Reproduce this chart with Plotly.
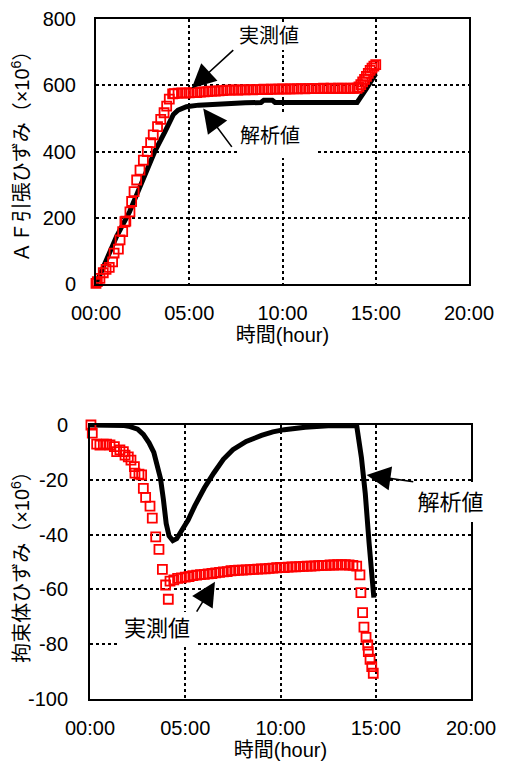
import plotly.graph_objects as go

# ---------------- data ----------------
# top chart: AF tensile strain
af_calc_time = [0, 0.4, 1.1, 1.8, 2.5, 3.15, 3.7, 4.0, 4.15, 4.4, 4.85, 5.5, 6.5, 8.0, 8.85, 9.0, 9.45, 9.6, 12.0, 14.0, 14.5, 15.0]
af_calc = [0, 52, 143, 218, 310, 400, 460, 500, 512, 525, 535, 540, 544, 547, 548, 555, 555, 548, 548, 548, 590, 635]

af_meas_time = [0.0, 0.07, 0.21, 0.39, 0.54, 0.71, 0.89, 0.97, 1.2, 1.29, 1.43, 1.55, 1.6, 1.82, 1.91, 2.04, 2.18,
                2.36, 2.54, 2.75, 2.93, 3.07, 3.3, 3.47, 3.65, 3.79, 3.93, 4.11,
                4.2, 4.4, 4.6, 4.8, 5.0, 5.2, 5.4, 5.6, 5.8, 6.0, 6.2, 6.4, 6.6, 6.8, 7.0, 7.2, 7.4, 7.6, 7.8,
                8.0, 8.2, 8.4, 8.6, 8.8, 9.0, 9.2, 9.4, 9.6, 9.8, 10.0, 10.2, 10.4, 10.6, 10.8, 11.0, 11.2,
                11.4, 11.6, 11.8, 12.0, 12.2, 12.4, 12.6, 12.8, 13.0, 13.2, 13.4, 13.6, 13.8, 14.0,
                14.1, 14.2, 14.3, 14.4, 14.5, 14.6, 14.7, 14.8, 14.9, 15.0]
af_meas = [2, 7, 17, 34, 44, 50, 67, 93, 105, 133, 158, 188, 190, 218, 249, 279, 314,
           344, 374, 400, 427, 450, 475, 497, 517, 537, 558, 574,
           575, 576, 577, 576, 577, 578, 578, 579, 580, 581, 582, 582, 583, 584, 585, 585, 586, 585, 586,
           586, 587, 586, 587, 587, 588, 587, 588, 588, 588, 589, 588, 589, 589, 589, 590, 589,
           590, 590, 590, 590, 591, 590, 591, 590, 591, 591, 590, 591, 591, 591,
           595, 602, 610, 618, 627, 636, 645, 652, 658, 662]

# bottom chart: restraint body strain
rb_calc_time = [0, 1.0, 1.8, 2.1, 2.5, 2.8, 3.1, 3.35, 3.55, 3.7, 3.85, 4.0, 4.15, 4.35, 4.55, 4.8, 5.15, 5.5,
                6.0, 6.5, 7.0, 7.5, 8.2, 9.0, 9.6, 10.2, 11.3, 12.5, 14.0, 14.25, 14.45, 14.65, 14.9]
rb_calc = [0, 0, -0.2, -0.6, -1.5, -3.4, -6.5, -10, -15, -19.5, -27, -36, -40.5, -42.2, -41.5, -38.8, -34.7, -29.5,
           -23, -17.5, -12.5, -9, -6, -3.8, -2.5, -1.7, -0.8, -0.3, -0.3, -12, -25, -43, -63]

rb_meas_time = [0.05, 0.12, 0.35, 0.52, 0.7, 0.87, 1.05, 1.28, 1.4, 1.57, 1.75, 1.84, 2.01, 2.15, 2.33, 2.36,
                2.57, 2.71, 2.8, 2.92, 3.15, 3.27, 3.45, 3.62, 3.8, 3.97, 4.11,
                4.2, 4.4, 4.6, 4.8, 5.0, 5.2, 5.4, 5.6, 5.8, 6.0, 6.2, 6.4, 6.6, 6.8, 7.0, 7.2, 7.4, 7.6, 7.8,
                8.0, 8.2, 8.4, 8.6, 8.8, 9.0, 9.2, 9.4, 9.6, 9.8, 10.0, 10.2, 10.4, 10.6, 10.8, 11.0, 11.2,
                11.4, 11.6, 11.8, 12.0, 12.2, 12.4, 12.6, 12.8, 13.0, 13.2, 13.4, 13.6, 13.8, 14.0,
                14.17, 14.22, 14.31, 14.38, 14.49, 14.58, 14.61, 14.7, 14.79, 14.87]
rb_meas = [0, -3, -7, -7.3, -7, -7, -7.3, -7.9, -9.7, -9.1, -9.7, -11, -11.6, -12.8, -15.2, -17.6,
           -17.9, -18.2, -23.1, -26.4, -29.6, -34, -40.8, -45.4, -52.7, -58.4, -63.6,
           -57, -56.5, -56, -55.8, -55.5, -55.3, -55, -54.8, -54.6, -54.5, -54.3, -54.2, -54, -53.8, -53.6,
           -53.5, -53.2, -53.1, -53, -53, -52.9, -52.8, -52.7, -52.6, -52.5, -52.5, -52.3, -52.2, -52.1,
           -52, -52, -51.9, -51.8, -51.8, -51.7, -51.6, -51.5, -51.5, -51.4, -51.3, -51.2, -51.2, -51.1,
           -51.1, -51, -51, -51, -51.1, -51.2, -51.5,
           -54.7, -61.2, -68.5, -73.8, -77.5, -80.3, -82.7, -85.5, -88.2, -90.6]

x_tickvals = [0, 5, 10, 15, 20]
x_ticktext = ["00:00", "05:00", "10:00", "15:00", "20:00"]
top_y_tickvals = [0, 200, 400, 600, 800]
top_y_ticktext = ["0", "200", "400", "600", "800"]
bot_y_tickvals = [0, -20, -40, -60, -80, -100]
bot_y_ticktext = ["0", "-20", "-40", "-60", "-80", "-100"]

label_meas = "実測値"
label_calc = "解析値"

# ---------------- figure ----------------
FONT = "Liberation Sans, Noto Sans CJK JP, sans-serif"
W, H = 500, 762          # page body margin is 8px, so the figure fills the 508x770 window
OFF = 8
RED = "#FF0000"


def xdom(left_px, right_px):
    return [(left_px - OFF) / W, (right_px - OFF) / W]


def ydom(top_px, bottom_px):
    return [(H - (bottom_px - OFF)) / H, (H - (top_px - OFF)) / H]


fig = go.Figure()

meas_marker = dict(symbol="square-open", size=9, color=RED, line=dict(width=1.8, color=RED))

fig.add_trace(go.Scatter(x=af_calc_time, y=af_calc, mode="lines", line=dict(color="black", width=5),
                         xaxis="x", yaxis="y", showlegend=False, cliponaxis=False))
fig.add_trace(go.Scatter(x=af_meas_time, y=af_meas, mode="markers", marker=meas_marker,
                         xaxis="x", yaxis="y", showlegend=False, cliponaxis=False))
fig.add_trace(go.Scatter(x=rb_calc_time, y=rb_calc, mode="lines", line=dict(color="black", width=5),
                         xaxis="x2", yaxis="y2", showlegend=False, cliponaxis=False))
fig.add_trace(go.Scatter(x=rb_meas_time, y=rb_meas, mode="markers", marker=meas_marker,
                         xaxis="x2", yaxis="y2", showlegend=False, cliponaxis=False))

axis_common = dict(showline=True, mirror=True, linecolor="black", linewidth=2,
                   showgrid=True, gridcolor="black", griddash="dot", gridwidth=1.5,
                   zeroline=False, ticks="", automargin=False,
                   tickfont=dict(family=FONT, size=20, color="black"),
                   title_font=dict(family=FONT, size=20, color="black"))

fig.update_layout(
    width=W, height=H,
    margin=dict(l=0, r=0, t=0, b=0, pad=0, autoexpand=False),
    paper_bgcolor="white", plot_bgcolor="white",
    font=dict(family=FONT, size=20, color="black"),
    xaxis=dict(domain=xdom(96, 469), range=[0, 20], tickvals=x_tickvals, ticktext=x_ticktext,
               anchor="y", ticklabelstandoff=10, title=dict(text="時間(hour)", standoff=4), **axis_common),
    yaxis=dict(domain=ydom(19, 284), range=[0, 800], tickvals=top_y_tickvals,
               ticktext=top_y_ticktext, anchor="x", ticklabelstandoff=14,
               title=dict(text="ＡＦ引張ひずみ（×10<sup>6</sup>）", standoff=8), **axis_common),
    xaxis2=dict(domain=xdom(90, 471), range=[0, 20], tickvals=x_tickvals, ticktext=x_ticktext,
                anchor="y2", ticklabelstandoff=10, title=dict(text="時間(hour)", standoff=4), **axis_common),
    yaxis2=dict(domain=ydom(425, 699), range=[-100, 0], tickvals=bot_y_tickvals,
                ticktext=bot_y_ticktext, anchor="x2", ticklabelstandoff=16,
                title=dict(text="拘束体ひずみ（×10<sup>6</sup>）", standoff=8), **axis_common),
)

top_font = dict(family=FONT, size=20, color="black")
bot_font = dict(family=FONT, size=22, color="black")
arrow = dict(showarrow=True, arrowhead=2, arrowsize=3, arrowwidth=1.6, arrowcolor="black",
             bgcolor="white", borderwidth=0, borderpad=0)
annotations = [
    # top chart: measured
    dict(text=label_meas, font=top_font, x=5.13, y=591, xref="x", yref="y",
         ax=7.36, ay=706, axref="x", ayref="y", xanchor="left", yanchor="bottom",
         width=72, height=28, align="center", valign="middle", **arrow),
    # top chart: analysis
    dict(text=label_calc, font=top_font, x=5.75, y=530, xref="x", yref="y",
         ax=7.73, ay=380, axref="x", ayref="y", xanchor="left", yanchor="bottom",
         width=77, height=44, align="left", valign="middle", startstandoff=14, **arrow),
    # bottom chart: analysis
    dict(text=label_calc, font=bot_font, x=14.52, y=-18.25, xref="x2", yref="y2",
         ax=16.97, ay=-20.7, axref="x2", ayref="y2", xanchor="left", yanchor="top",
         width=75, height=40, align="center", valign="middle", **arrow),
    # bottom chart: measured
    dict(text=label_meas, font=bot_font, x=6.56, y=-57.2, xref="x2", yref="y2",
         ax=5.6, ay=-68.1, axref="x2", ayref="y2", xanchor="right", yanchor="top",
         width=80, height=33, align="center", valign="middle", **arrow),
]
fig.update_layout(annotations=annotations)

fig.write_html("out.html")
